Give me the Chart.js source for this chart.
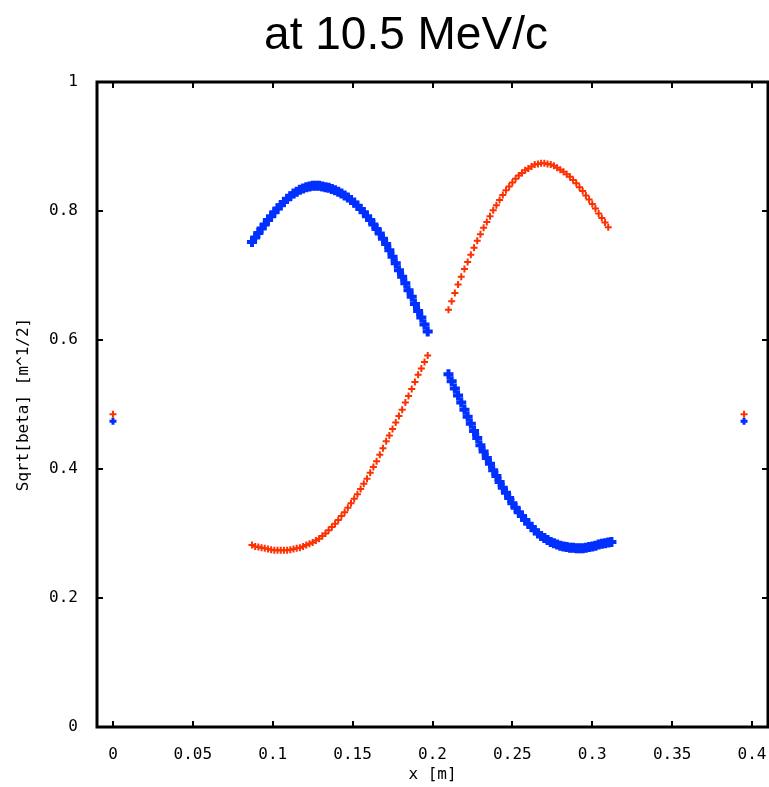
<!DOCTYPE html>
<html>
<head>
<meta charset="utf-8">
<script src="https://cdn.jsdelivr.net/npm/chart.js@4/dist/chart.umd.min.js"></script>
<style>
    html, body { margin: 0; padding: 0; background: #fff; }
    canvas { display: block; }
</style>
</head>
<body>
<canvas id="betaChart" width="769" height="787"></canvas>
<script>
// sqrt(beta) along x, two planes, sampled on both sides of the crossing
var redLowX = [0.087, 0.089, 0.091, 0.093, 0.095, 0.097, 0.099, 0.101, 0.103, 0.105, 0.107, 0.109, 0.111, 0.113, 0.115, 0.117, 0.119, 0.121, 0.123, 0.125, 0.127, 0.129, 0.131, 0.133, 0.135, 0.137, 0.139, 0.141, 0.143, 0.145, 0.147, 0.149, 0.151, 0.153, 0.155, 0.157, 0.159, 0.161, 0.163, 0.165, 0.167, 0.169, 0.171, 0.173, 0.175, 0.177, 0.179, 0.181, 0.183, 0.185, 0.187, 0.189, 0.191, 0.193, 0.195, 0.197];
var redLowY = [0.282, 0.280, 0.279, 0.278, 0.277, 0.276, 0.275, 0.274, 0.274, 0.274, 0.274, 0.274, 0.275, 0.276, 0.277, 0.278, 0.280, 0.282, 0.284, 0.286, 0.289, 0.292, 0.296, 0.300, 0.305, 0.310, 0.315, 0.321, 0.327, 0.333, 0.340, 0.347, 0.354, 0.361, 0.369, 0.377, 0.385, 0.394, 0.403, 0.412, 0.422, 0.432, 0.443, 0.452, 0.462, 0.472, 0.482, 0.492, 0.503, 0.513, 0.524, 0.535, 0.546, 0.556, 0.566, 0.576];

var blueHighX = [0.087, 0.089, 0.091, 0.093, 0.095, 0.097, 0.099, 0.101, 0.103, 0.105, 0.107, 0.109, 0.111, 0.113, 0.115, 0.117, 0.119, 0.121, 0.123, 0.125, 0.127, 0.129, 0.131, 0.133, 0.135, 0.137, 0.139, 0.141, 0.143, 0.145, 0.147, 0.149, 0.151, 0.153, 0.155, 0.157, 0.159, 0.161, 0.163, 0.165, 0.167, 0.169, 0.171, 0.173, 0.175, 0.177, 0.179, 0.181, 0.183, 0.185, 0.187, 0.189, 0.191, 0.193, 0.195, 0.197];
var blueHighY = [0.752, 0.759, 0.766, 0.773, 0.779, 0.786, 0.792, 0.798, 0.804, 0.809, 0.814, 0.819, 0.823, 0.827, 0.830, 0.833, 0.835, 0.837, 0.838, 0.839, 0.839, 0.839, 0.838, 0.837, 0.836, 0.834, 0.832, 0.830, 0.827, 0.824, 0.821, 0.817, 0.813, 0.808, 0.803, 0.798, 0.792, 0.786, 0.779, 0.772, 0.765, 0.757, 0.749, 0.739, 0.729, 0.719, 0.708, 0.698, 0.688, 0.677, 0.667, 0.656, 0.645, 0.635, 0.624, 0.613];

var redHighX = [0.210, 0.212, 0.214, 0.216, 0.218, 0.220, 0.222, 0.224, 0.226, 0.228, 0.230, 0.232, 0.234, 0.236, 0.238, 0.240, 0.242, 0.244, 0.246, 0.248, 0.250, 0.252, 0.254, 0.256, 0.258, 0.260, 0.262, 0.264, 0.266, 0.268, 0.270, 0.272, 0.274, 0.276, 0.278, 0.280, 0.282, 0.284, 0.286, 0.288, 0.290, 0.292, 0.294, 0.296, 0.298, 0.300, 0.302, 0.304, 0.306, 0.308, 0.310];
var redHighY = [0.647, 0.660, 0.673, 0.686, 0.698, 0.710, 0.721, 0.732, 0.743, 0.754, 0.764, 0.774, 0.783, 0.792, 0.801, 0.809, 0.817, 0.825, 0.832, 0.838, 0.844, 0.850, 0.855, 0.859, 0.863, 0.866, 0.869, 0.872, 0.873, 0.874, 0.874, 0.873, 0.872, 0.870, 0.867, 0.864, 0.861, 0.857, 0.853, 0.848, 0.843, 0.837, 0.831, 0.824, 0.818, 0.811, 0.804, 0.796, 0.789, 0.782, 0.775];

var blueLowX = [0.210, 0.212, 0.214, 0.216, 0.218, 0.220, 0.222, 0.224, 0.226, 0.228, 0.230, 0.232, 0.234, 0.236, 0.238, 0.240, 0.242, 0.244, 0.246, 0.248, 0.250, 0.252, 0.254, 0.256, 0.258, 0.260, 0.262, 0.264, 0.266, 0.268, 0.270, 0.272, 0.274, 0.276, 0.278, 0.280, 0.282, 0.284, 0.286, 0.288, 0.290, 0.292, 0.294, 0.296, 0.298, 0.300, 0.302, 0.304, 0.306, 0.308, 0.310, 0.312];
var blueLowY = [0.547, 0.536, 0.525, 0.514, 0.503, 0.492, 0.481, 0.470, 0.459, 0.448, 0.437, 0.427, 0.417, 0.408, 0.398, 0.389, 0.380, 0.371, 0.363, 0.355, 0.347, 0.340, 0.333, 0.327, 0.321, 0.315, 0.310, 0.305, 0.300, 0.296, 0.293, 0.290, 0.287, 0.285, 0.283, 0.281, 0.280, 0.279, 0.278, 0.278, 0.277, 0.277, 0.277, 0.278, 0.279, 0.280, 0.281, 0.283, 0.284, 0.285, 0.286, 0.287];

// values at the two ends of the line
var endX = [0, 0.395];
var endRedY = [0.485, 0.485];
var endBlueY = [0.474, 0.474];

var xTickValues = [0, 0.05, 0.1, 0.15, 0.2, 0.25, 0.3, 0.35, 0.4];
var yTickValues = [0, 0.2, 0.4, 0.6, 0.8, 1];

var chartTitle = 'at 10.5 MeV/c';
var xTitle = 'x [m]';
var yTitle = 'Sqrt[beta] [m^1/2]';

var RED = '#ff3000';
var BLUE = '#0030ff';

function toPoints(xs, ys) {
    var pts = [];
    for (var i = 0; i < xs.length; i++) {
        pts.push({x: xs[i], y: ys[i]});
    }
    return pts;
}

function fmt(v) {
    return String(parseFloat(v.toFixed(2)));
}

// frame, inward tick marks and the big title
var framePlugin = {
    id: 'frame',
    afterDraw: function(chart) {
        var ctx = chart.ctx;
        var a = chart.chartArea;
        var xs = chart.scales.x;
        var ys = chart.scales.y;
        ctx.save();
        ctx.strokeStyle = '#000';
        ctx.lineWidth = 2;
        ctx.beginPath();
        xTickValues.forEach(function(v) {
            var px = Math.round(xs.getPixelForValue(v));
            ctx.moveTo(px, a.bottom); ctx.lineTo(px, a.bottom - 6);
            ctx.moveTo(px, a.top); ctx.lineTo(px, a.top + 6);
        });
        yTickValues.forEach(function(v) {
            var py = Math.round(ys.getPixelForValue(v));
            ctx.moveTo(a.left, py); ctx.lineTo(a.left + 6, py);
            ctx.moveTo(a.right, py); ctx.lineTo(a.right - 6, py);
        });
        ctx.stroke();
        ctx.lineWidth = 3;
        ctx.strokeRect(a.left, a.top, a.right - a.left, a.bottom - a.top);

        ctx.fillStyle = '#000';
        ctx.font = '46px "Liberation Sans", Arial, sans-serif';
        ctx.textAlign = 'center';
        ctx.textBaseline = 'middle';
        ctx.fillText(chartTitle, 406, 36);
        ctx.restore();
    }
};

var monoFont = {family: '"DejaVu Sans Mono", monospace', size: 16};

function redSet(xs, ys) {
    return {
        data: toPoints(xs, ys),
        borderColor: RED, backgroundColor: RED,
        pointStyle: 'cross', pointRadius: 3.5, borderWidth: 2
    };
}

function blueSet(xs, ys) {
    return {
        data: toPoints(xs, ys),
        borderColor: BLUE, backgroundColor: BLUE,
        pointStyle: 'cross', pointRadius: 5, borderWidth: 4
    };
}

var endRed = redSet(endX, endRedY);
var endBlue = blueSet(endX, endBlueY);
endBlue.pointRadius = 3.5;
endBlue.borderWidth = 3;

var ctx = document.getElementById('betaChart').getContext('2d');
var betaChart = new Chart(ctx, {
    type: 'scatter',
    data: {
        datasets: [
            redSet(redLowX, redLowY),
            redSet(redHighX, redHighY),
            blueSet(blueHighX, blueHighY),
            blueSet(blueLowX, blueLowY),
            endRed,
            endBlue
        ]
    },
    plugins: [framePlugin],
    options: {
        responsive: false,
        animation: false,
        layout: {
            autoPadding: false,
            padding: {top: 82, right: 1, left: 0, bottom: 0}
        },
        plugins: {
            legend: {display: false},
            title: {display: false},
            tooltip: {enabled: false}
        },
        scales: {
            x: {
                type: 'linear',
                min: -0.01,
                max: 0.41,
                grid: {display: false},
                border: {display: false},
                afterBuildTicks: function(scale) {
                    scale.ticks = xTickValues.map(function(v) { return {value: v}; });
                },
                afterFit: function(scale) {
                    // keep the last label from shrinking the plot
                    scale.height = 60;
                    scale.paddingLeft = 0;
                    scale.paddingRight = 0;
                },
                ticks: {
                    color: '#000',
                    font: monoFont,
                    padding: 10,
                    maxRotation: 0,
                    autoSkip: false,
                    callback: function(v) { return fmt(v); }
                },
                title: {
                    display: true,
                    text: xTitle,
                    color: '#000',
                    font: monoFont,
                    padding: {top: 0, bottom: 3}
                }
            },
            y: {
                type: 'linear',
                min: 0,
                max: 1,
                grid: {display: false},
                border: {display: false},
                afterBuildTicks: function(scale) {
                    scale.ticks = yTickValues.map(function(v) { return {value: v}; });
                },
                afterFit: function(scale) {
                    scale.width = 97;
                    scale.paddingTop = 0;
                    scale.paddingBottom = 0;
                },
                ticks: {
                    color: '#000',
                    font: monoFont,
                    padding: 11,
                    autoSkip: false,
                    callback: function(v) { return fmt(v); }
                },
                title: {
                    display: true,
                    text: yTitle,
                    color: '#000',
                    font: monoFont,
                    padding: {top: 14, bottom: 0}
                }
            }
        }
    }
});
</script>
</body>
</html>
